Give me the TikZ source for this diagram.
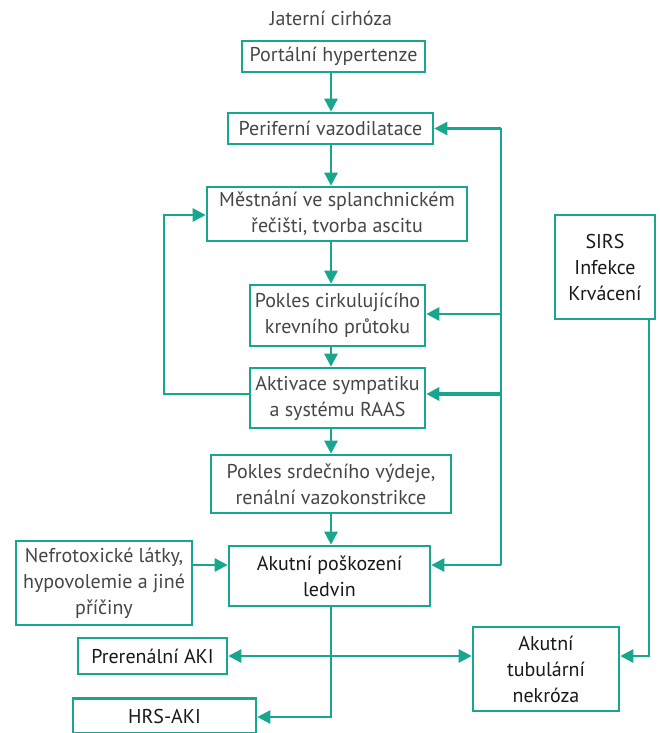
\documentclass[tikz,border=0pt]{standalone}
\usepackage{fontspec}
\setmainfont{PT Sans}
\usetikzlibrary{arrows.meta}
\definecolor{teal1}{RGB}{24,166,142}
\definecolor{txtlight}{RGB}{70,70,70}
\definecolor{txtdark}{RGB}{25,25,25}
\begin{document}
\begin{tikzpicture}[x=1pt,y=-1pt,
  box/.style={draw=teal1,line width=2.6pt,fill=white,inner sep=2pt,align=center,
    font=\fontsize{20}{26}\selectfont,text=txtlight},
  boxb/.style={box,text=txtdark},
  conn/.style={draw=teal1,line width=2.6pt},
  arr/.style={conn,-{Triangle[length=13pt,width=13pt]}},
  darr/.style={conn,{Triangle[length=13pt,width=13pt]}-{Triangle[length=13pt,width=13pt]}}]
\useasboundingbox (0,0) rectangle (659,733);
% nodes
\node[font=\fontsize{20}{24}\selectfont,text=txtlight] (cirh) at (331,18) {Jaterní cirhóza};
\node[box,minimum width=183pt,minimum height=31pt] (portal) at (333.5,56.5) {Portální hypertenze};
\node[box,minimum width=205pt,minimum height=31pt] (perif) at (330.5,128.5) {Periferní vazodilatace};
\node[box,minimum width=260pt,minimum height=54pt] (mest) at (337,214) {Městnání ve splanchnickém\\řečišti, tvorba ascitu};
\node[box,minimum width=175pt,minimum height=61pt] (pokc) at (337.5,315.5) {Pokles cirkulujícího\\krevního průtoku};
\node[box,minimum width=175pt,minimum height=60pt] (aktiv) at (337.5,398) {Aktivace sympatiku\\a systému RAAS};
\node[box,minimum width=240pt,minimum height=58pt] (pokls) at (331,484) {Pokles srdečního výdeje,\\renální vazokonstrikce};
\node[boxb,minimum width=201pt,minimum height=60pt] (apl) at (329.5,576) {Akutní poškození\\ledvin};
\node[box,minimum width=176pt,minimum height=84pt] (nefro) at (104,583) {Nefrotoxické látky,\\hypovolemie a jiné\\příčiny};
\node[boxb,minimum width=100pt,minimum height=104pt] (sirs) at (605,267) {SIRS\\Infekce\\Krvácení};
\node[boxb,minimum width=149pt,minimum height=36pt] (prer) at (152.5,656) {Prerenální AKI};
\node[boxb,minimum width=146pt,minimum height=84pt] (atn) at (546,669) {Akutní\\tubulární\\nekróza};
\node[boxb,minimum width=183pt,minimum height=35pt] (hrs) at (164.5,716) {HRS-AKI};
% helper coordinates
\coordinate (sp) at (331,0);
\coordinate (rx) at (501,0);
\coordinate (lx) at (164,0);
\coordinate (ya) at (0,394);
\coordinate (ym) at (0,215);
\coordinate (yp) at (0,314);
\coordinate (yl) at (0,565);
\coordinate (yh) at (0,717);
\coordinate (yt) at (0,656);
\coordinate (sx) at (649,0);
% spine
\draw[arr] (portal.south -| sp) -- (perif.north -| sp);
\draw[arr] (perif.south -| sp) -- (mest.north -| sp);
\draw[arr] (mest.south -| sp) -- (pokc.north -| sp);
\draw[arr] (pokc.south -| sp) -- (aktiv.north -| sp);
\draw[arr] (aktiv.south -| sp) -- (pokls.north -| sp);
\draw[arr] (pokls.south -| sp) -- (apl.north -| sp);
% right feedback line
\draw[conn] (rx |- perif) -- (rx |- yl);
\draw[arr] (rx |- perif) -- (perif.east);
\draw[arr] (rx |- yp) -- (pokc.east |- yp);
\draw[arr,line width=3.8pt] (rx |- ya) -- (aktiv.east |- ya);
\draw[arr] (rx |- yl) -- (apl.east |- yl);
% left loop
\draw[arr] (aktiv.west |- ya) -| (lx |- ym) -- (mest.west |- ym);
% lower part
\draw[arr] (nefro.east |- yl) -- (apl.west |- yl);
\draw[darr] (prer.east |- yt) -- (atn.west |- yt);
\draw[arr] (apl.south -| sp) -- (sp |- yh) -- (hrs.east |- yh);
\draw[arr] (sirs.south -| sx) -- (sx |- yt) -- (atn.east |- yt);
\end{tikzpicture}
\end{document}
